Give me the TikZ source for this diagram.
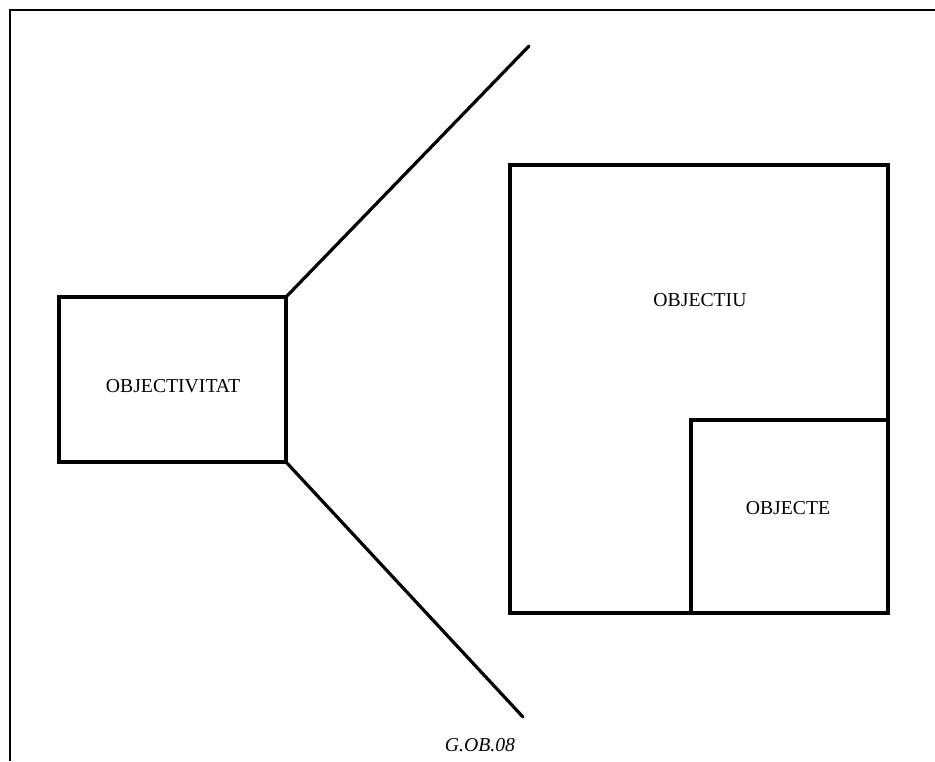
\documentclass[tikz,border=0pt]{standalone}
\usepackage{fontspec}
\setmainfont{Liberation Serif}
\begin{document}
\begin{tikzpicture}[x=1pt,y=-1pt,
  boxstyle/.style={draw, line width=3.2pt, rectangle, inner sep=0pt, outer sep=0pt},
  lbl/.style={inner sep=0pt, font=\fontsize{19.7}{22}\selectfont},
  conn/.style={line width=3.2pt, line cap=round},
  framestyle/.style={line width=2pt}]
\useasboundingbox (0,0) rectangle (935,761);
% frame
\coordinate (fr1) at (935,10);
\coordinate (fr2) at (10,10);
\coordinate (fr3) at (10,761);
\draw[framestyle] (fr1) -- (fr2) -- (fr3);
% boxes
\node[boxstyle, minimum width=227pt, minimum height=165pt] (objv) at (172.5,379.5) {};
\node[boxstyle, minimum width=378pt, minimum height=448pt] (objiu) at (699,389) {};
\node[boxstyle, minimum width=197pt, minimum height=193pt] (obje) at (789.5,516.5) {};
% labels
\node[lbl] (tobjv) at (173,386) {OBJECTIVITAT};
\node[lbl] (tobjiu) at (700,300) {OBJECTIU};
\node[lbl] (tobje) at (788,508) {OBJECTE};
\node[lbl, font=\fontsize{19.7}{22}\selectfont\itshape] (cap) at (480,745) {G.OB.08};
% connectors
\coordinate (topend) at (529,46);
\coordinate (botend) at (523,717);
\draw[conn] (objv.north east) -- (topend);
\draw[conn] (objv.south east) -- (botend);
\end{tikzpicture}
\end{document}
